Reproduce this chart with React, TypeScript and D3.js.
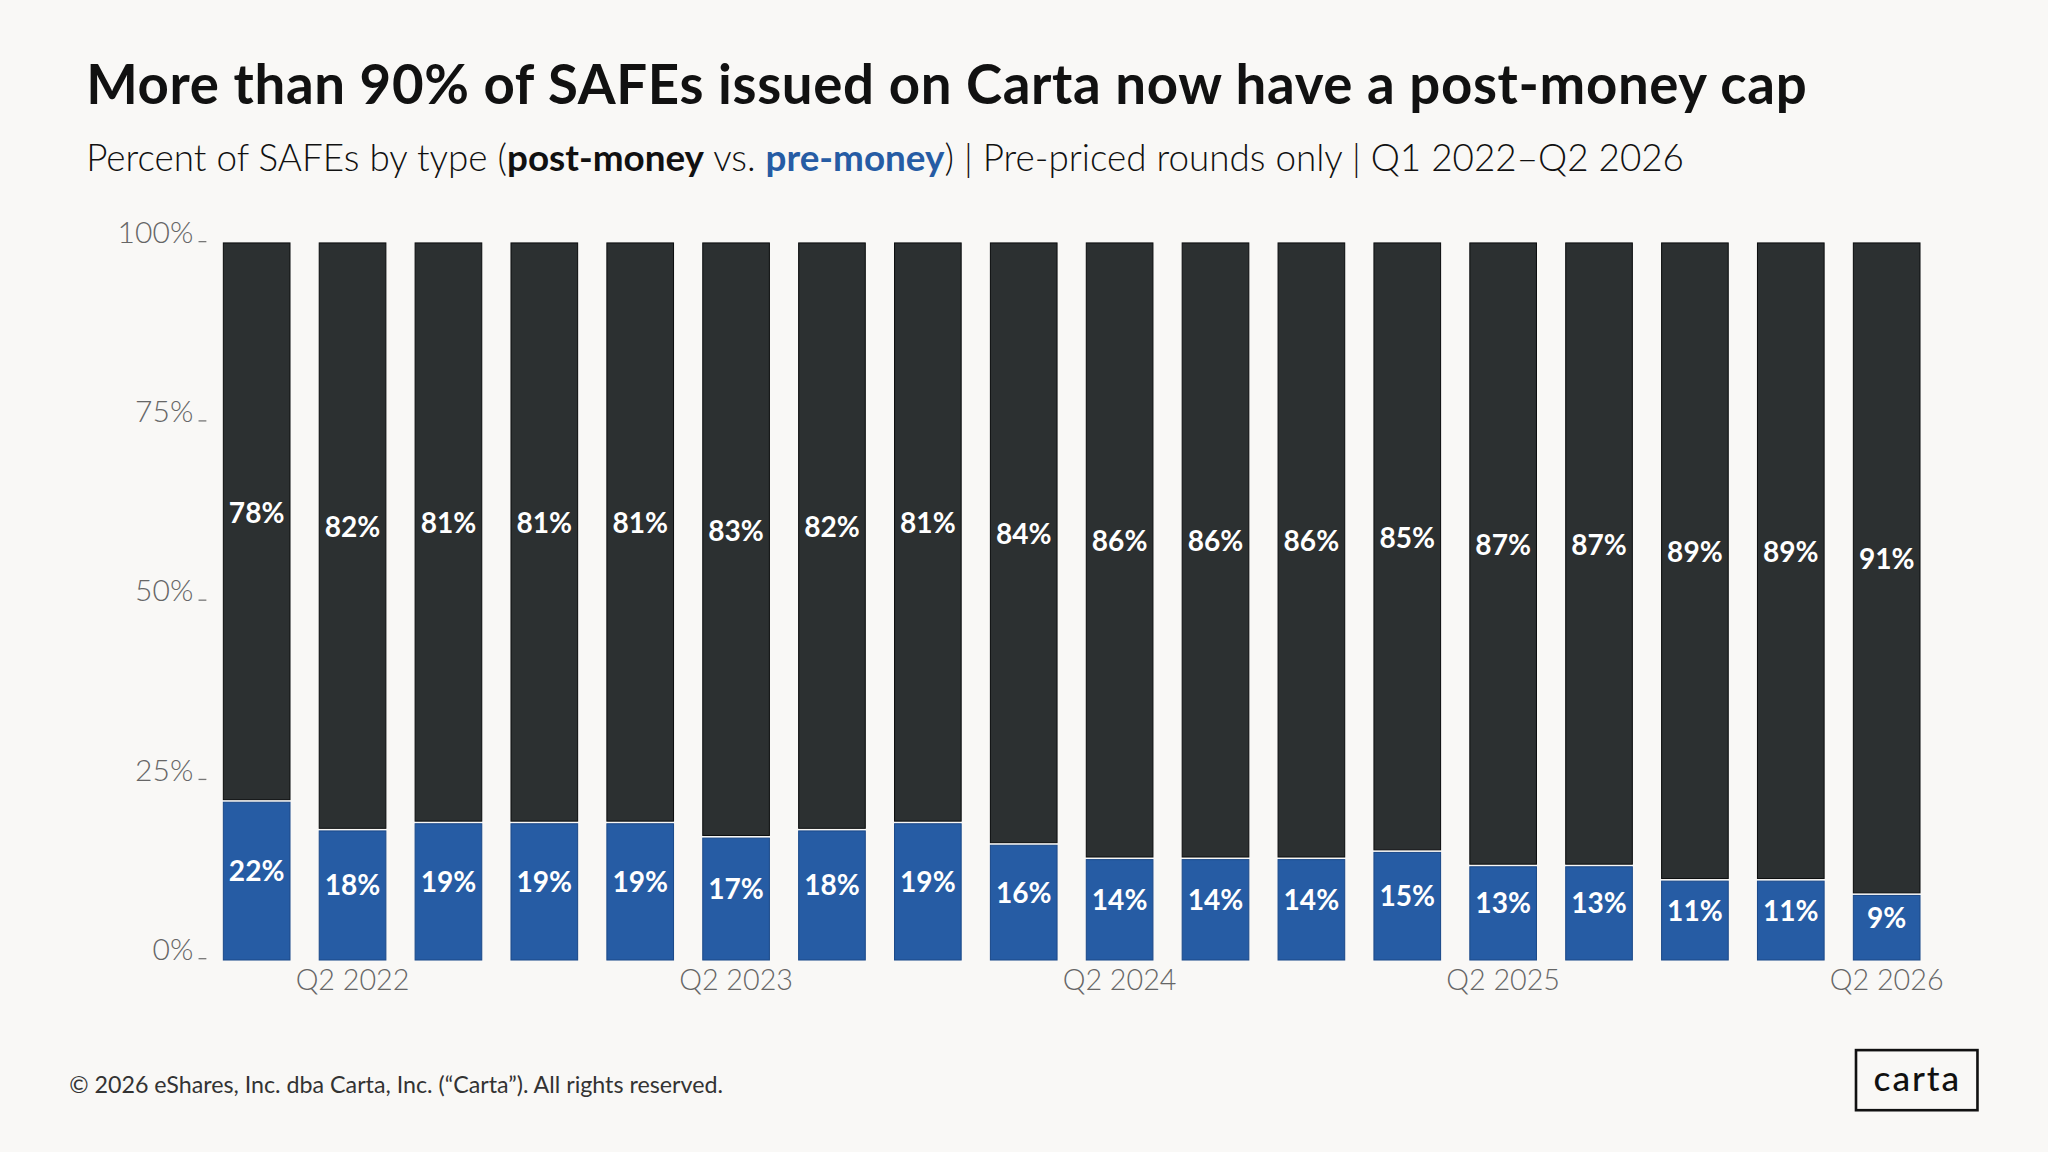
import * as d3 from "d3";

const quarters = [
  "Q1 2022", "Q2 2022", "Q3 2022", "Q4 2022",
  "Q1 2023", "Q2 2023", "Q3 2023", "Q4 2023",
  "Q1 2024", "Q2 2024", "Q3 2024", "Q4 2024",
  "Q1 2025", "Q2 2025", "Q3 2025", "Q4 2025",
  "Q1 2026", "Q2 2026",
];
const postMoney = [78, 82, 81, 81, 81, 83, 82, 81, 84, 86, 86, 86, 85, 87, 87, 89, 89, 91];
const preMoney = [22, 18, 19, 19, 19, 17, 18, 19, 16, 14, 14, 14, 15, 13, 13, 11, 11, 9];
const yTicks = [0, 25, 50, 75, 100];
const xLabels = ["Q2 2022", "Q2 2023", "Q2 2024", "Q2 2025", "Q2 2026"];

const W = 1568;
const H = 882;
const BG = "#f9f8f6";
const DARK = "#2c3031";
const BLUE = "#265ca4";
const FONT = "Lato, 'Open Sans', sans-serif";

export default function App() {
  const x = d3.scaleBand<string>().domain(quarters).range([171, 1470]).paddingInner(0.305).paddingOuter(0);
  const y = d3.scaleLinear().domain([0, 100]).range([735, 186]);

  const rows = quarters.map((q, i) => ({ q, pre: preMoney[i], post: postMoney[i] }));
  const stack = d3.stack<{ q: string; pre: number; post: number }>().keys(["pre", "post"]);
  const [preS, postS] = stack(rows);

  return (
    <div style={{ position: "absolute", left: 0, top: 0, width: 2048, height: 1152, background: BG }}>
      <svg width={2048} height={1152} viewBox={`0 0 ${W} ${H}`} style={{ display: "block" }}>
        <rect x={0} y={0} width={W} height={H} fill={BG} />
        <text x={66} y={80} fontFamily={FONT} fontWeight={700} fontSize={41.8} letterSpacing={0.5} fill="#111">
          More than 90% of SAFEs issued on Carta now have a post-money cap
        </text>
        <text x={66} y={131} fontFamily={FONT} fontWeight={300} fontSize={28.2} fill="#111">
          Percent of SAFEs by type (<tspan fontWeight={700}>post-money</tspan> vs.{" "}
          <tspan fontWeight={700} fill={BLUE}>pre-money</tspan>) | Pre-priced rounds only | Q1 2022–Q2 2026
        </text>

        {yTicks.map((t) => (
          <g key={t}>
            <text x={148} y={y(t)} textAnchor="end" fontFamily={FONT} fontWeight={300} fontSize={23} fill="#666">
              {t}%
            </text>
            <line x1={152} x2={158} y1={y(t) - 1} y2={y(t) - 1} stroke="#777" strokeWidth={1} />
          </g>
        ))}

        {rows.map((r, i) => {
          const bx = x(r.q)!;
          const bw = x.bandwidth();
          const p0 = preS[i][0], p1 = preS[i][1];
          const q0 = postS[i][0], q1 = postS[i][1];
          return (
            <g key={r.q}>
              <rect x={bx} y={y(p1)} width={bw} height={y(p0) - y(p1)} fill={BLUE} stroke="#1c4a8a" strokeWidth={0.8} />
              <rect x={bx} y={y(q1)} width={bw} height={y(q0) - y(q1) - 2} fill={DARK} stroke="#0d0f10" strokeWidth={0.8} />
              <text x={bx + bw / 2} y={y((q0 + q1) / 2)} textAnchor="middle" fontFamily={FONT} fontWeight={700} fontSize={21.5} fill="#fff">
                {r.post}%
              </text>
              <text x={bx + bw / 2} y={y((p0 + p1) / 2)} textAnchor="middle" fontFamily={FONT} fontWeight={700} fontSize={21.5} fill="#fff">
                {r.pre}%
              </text>
            </g>
          );
        })}

        {xLabels.map((l) => (
          <text key={l} x={x(l)! + x.bandwidth() / 2} y={758} textAnchor="middle" fontFamily={FONT} fontWeight={300} fontSize={22} fill="#666">
            {l}
          </text>
        ))}

        <text x={53} y={837} fontFamily={FONT} fontWeight={400} fontSize={17.8} fill="#333">
          © 2026 eShares, Inc. dba Carta, Inc. (“Carta”). All rights reserved.
        </text>

        <rect x={1421} y={804} width={93} height={46} fill="none" stroke="#111" strokeWidth={2} />
        <text x={1468} y={835} textAnchor="middle" fontFamily={FONT} fontWeight={500} fontSize={27} letterSpacing={1.5} fill="#111">
          carta
        </text>
      </svg>
    </div>
  );
}
